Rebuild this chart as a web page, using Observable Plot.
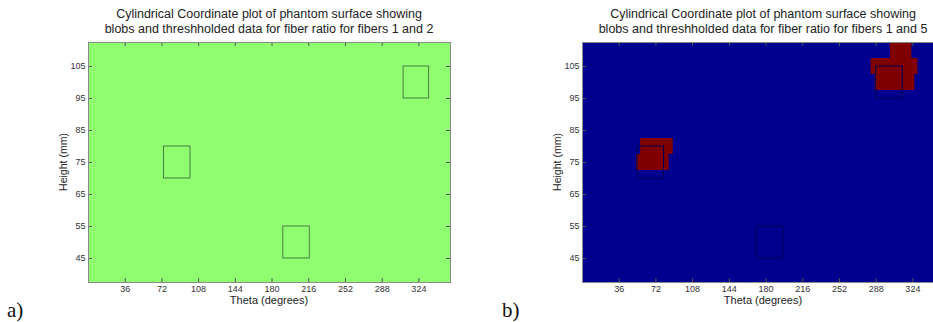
<!DOCTYPE html>
<html><head><meta charset="utf-8">
<script src="https://cdn.jsdelivr.net/npm/d3@7"></script>
<script src="https://cdn.jsdelivr.net/npm/@observablehq/plot@0.6"></script>
<style>
html,body{margin:0;padding:0;background:#fff;}
body{width:933px;height:322px;overflow:hidden;position:relative;font-family:"Liberation Sans",Arial,sans-serif;}
.panel{position:absolute;top:0;}
.title{position:absolute;top:7px;text-align:center;font-size:12.5px;line-height:15px;color:#222;white-space:nowrap;transform:translateX(-50%);}
.xl{position:absolute;top:295px;font-size:11px;line-height:11px;color:#222;transform:translateX(-50%);white-space:nowrap;}
.yl{position:absolute;font-size:10.5px;color:#222;white-space:nowrap;transform:translate(-50%,-50%) rotate(-90deg);}
.tag{position:absolute;top:298px;font-family:"Liberation Serif","Times New Roman",serif;font-size:21px;color:#111;}
</style></head>
<body>
<div id="root"></div>
<script>
const thetaTicks = [36, 72, 108, 144, 180, 216, 252, 288, 324];
const heightTicks = [45, 55, 65, 75, 85, 95, 105];
const thetaDomain = [0, 355];
const heightDomain = [37.5, 112.5];

// rectangle outlines (theta1, theta2, height1, height2)
const boxesA_t1 = [74, 191, 309];
const boxesA_t2 = [100, 217, 334];
const boxesA_h1 = [70, 45, 95];
const boxesA_h2 = [80, 55, 105];

const boxesB_t1 = [54, 171, 288];
const boxesB_t2 = [80, 197, 314];
const boxesB_h1 = [70, 45, 95];
const boxesB_h2 = [80, 55, 105];

// thresholded blobs in panel b
const blobsB_t1 = [57, 53, 302, 283, 287];
const blobsB_t2 = [89, 85, 323, 329, 326];
const blobsB_h1 = [77.5, 72.5, 107.5, 102.5, 97.5];
const blobsB_h2 = [82.5, 77.5, 116, 107.5, 102.5];

const titleLines = ["Cylindrical Coordinate plot of phantom surface showing",
  "blobs and threshholded data for fiber ratio for fibers 1 and "];

function zipRects(t1, t2, h1, h2) {
  return t1.map((d, i) => ({t1: d, t2: t2[i], h1: h1[i], h2: h2[i]}));
}

function panel({left, width, marginLeft, bg, boxes, boxStroke, blobs, fiber, tag}) {
  const plotW = 362;
  const plotH = 240;
  const marginTop = 42, marginBottom = 40;
  const marks = [
    Plot.frame({fill: bg, stroke: null}),
  ];
  if (blobs) marks.push(Plot.rect(blobs, {x1: "t1", x2: "t2", y1: "h1", y2: "h2", fill: "#800000", clip: true}));
  marks.push(Plot.rect(boxes, {x1: "t1", x2: "t2", y1: "h1", y2: "h2", fill: "none", stroke: boxStroke, strokeWidth: 1}));
  // inward ticks on four sides
  marks.push(Plot.tickX(thetaTicks, {x: d => d, stroke: "#555", insetTop: plotH - 4}));
  marks.push(Plot.tickX(thetaTicks, {x: d => d, stroke: "#555", insetBottom: plotH - 4}));
  marks.push(Plot.tickY(heightTicks, {y: d => d, stroke: "#555", insetRight: plotW - 4}));
  marks.push(Plot.tickY(heightTicks, {y: d => d, stroke: "#555", insetLeft: plotW - 4}));
  marks.push(Plot.frame({stroke: "#8a8a8a", strokeWidth: 1}));
  marks.push(Plot.axisX(thetaTicks, {anchor: "bottom", tickSize: 0, tickPadding: 3, fontSize: 9, fill: "#333", label: null}));
  marks.push(Plot.axisY(heightTicks, {anchor: "left", tickSize: 0, tickPadding: 3, fontSize: 9, fill: "#333", label: null}));
  const svg = Plot.plot({
    width, height: 322,
    marginLeft, marginRight: width - marginLeft - plotW,
    marginTop, marginBottom,
    x: {domain: thetaDomain},
    y: {domain: heightDomain},
    style: {background: "transparent", fontFamily: "Liberation Sans, Arial, sans-serif"},
    marks
  });
  const div = document.createElement("div");
  div.className = "panel";
  div.style.left = left + "px";
  div.style.width = width + "px";
  div.appendChild(svg);
  const cx = marginLeft + plotW / 2;
  const t = document.createElement("div");
  t.className = "title";
  t.style.left = cx + "px";
  t.innerHTML = titleLines[0] + "<br>" + titleLines[1] + fiber;
  div.appendChild(t);
  const xl = document.createElement("div");
  xl.className = "xl"; xl.style.left = cx + "px"; xl.textContent = "Theta (degrees)";
  div.appendChild(xl);
  const yl = document.createElement("div");
  yl.className = "yl"; yl.style.left = (marginLeft - 25) + "px"; yl.style.top = "162px"; yl.textContent = "Height (mm)";
  div.appendChild(yl);
  const tg = document.createElement("div");
  tg.className = "tag"; tg.style.left = tag + "px"; tg.textContent = tag < 20 ? "a)" : "b)";
  div.appendChild(tg);
  document.getElementById("root").appendChild(div);
}

panel({left: 0, width: 470, marginLeft: 88, bg: "#8fff70",
  boxes: zipRects(boxesA_t1, boxesA_t2, boxesA_h1, boxesA_h2), boxStroke: "#4a7a3e",
  blobs: null, fiber: "2", tag: 7});
panel({left: 470, width: 480, marginLeft: 112, bg: "#000090",
  boxes: zipRects(boxesB_t1, boxesB_t2, boxesB_h1, boxesB_h2), boxStroke: "#000055",
  blobs: zipRects(blobsB_t1, blobsB_t2, blobsB_h1, blobsB_h2), fiber: "5", tag: 32});
</script>
</body></html>
